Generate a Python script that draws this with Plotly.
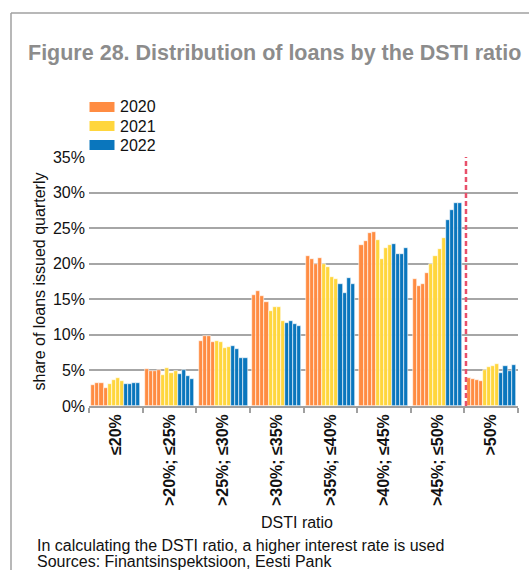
import plotly.graph_objects as go

# ---------------- data ----------------
categories = ["≤20%", ">20%; ≤25%", ">25%; ≤30%", ">30%; ≤35%",
              ">35%; ≤40%", ">40%; ≤45%", ">45%; ≤50%", ">50%"]
years = ["2020", "2021", "2022"]
# quarterly shares (%) per DSTI category, Q1..Q4
v2020 = [[3.0, 3.3, 3.3, 2.6], [5.2, 4.95, 4.95, 5.05], [9.15, 9.8, 9.8, 9.0],
         [15.65, 16.1, 15.5, 14.6], [21.1, 20.7, 19.9, 20.8], [22.6, 23.2, 24.25, 24.4],
         [17.8, 16.8, 17.1, 18.7], [4.0, 3.75, 3.65, 3.5]]
v2021 = [[3.1, 3.7, 4.0, 3.55], [4.35, 5.3, 4.6, 4.9], [9.2, 9.0, 8.1, 8.3],
         [13.3, 13.9, 13.9, 11.9], [20.0, 19.5, 18.1, 17.9], [23.4, 20.7, 22.2, 22.6],
         [20.0, 21.1, 22.0, 23.55], [5.1, 5.5, 5.6, 5.9]]
v2022 = [[3.1, 3.1, 3.3, 3.2], [4.5, 5.0, 4.15, 3.75], [8.4, 7.95, 6.8, 6.7],
         [11.7, 11.9, 11.5, 11.2], [17.2, 15.9, 18.0, 17.1], [22.8, 21.3, 21.4, 22.2],
         [26.1, 27.6, 28.55, 28.55], [4.6, 5.65, 4.9, 5.75]]
colors = ["#ff8c42", "#ffd63d", "#0a76bd"]
yticks = [0, 5, 10, 15, 20, 25, 30, 35]

# ---------------- geometry helpers ----------------
W, H = 529, 570
ML, MR, MT, MB = 89, 11, 157, 164
PW, PH = W - ML - MR, H - MT - MB


def xp(px):
    return (px - ML) / PW


def yp(py):
    return (H - MB - py) / PH


fig = go.Figure()
group_w = 0.914
bw = group_w / 12
for k, (yr, vals, col) in enumerate(zip(years, [v2020, v2021, v2022], colors)):
    xs, ys = [], []
    for i, quarters in enumerate(vals):
        for q, v in enumerate(quarters):
            idx = k * 4 + q
            xs.append(i + (idx - 5.5) * bw)
            ys.append(v)
    fig.add_trace(go.Bar(x=xs, y=ys, width=bw, name=yr, marker_color=col,
                         marker_line_color="white", marker_line_width=0.6,
                         showlegend=False))

fig.update_layout(
    width=W, height=H,
    margin=dict(l=ML, r=MR, t=MT, b=MB, autoexpand=False),
    paper_bgcolor="white", plot_bgcolor="white",
    font=dict(family="Liberation Sans, Arial, sans-serif", size=16, color="#1a1a1a"),
    bargap=0,
)
fig.update_xaxes(
    range=[-0.5, 7.5], tickmode="array", tickvals=list(range(len(categories))),
    ticktext=categories, tickangle=-90, ticks="",
    tickfont=dict(size=16, weight="bold", color="#111"),
    showgrid=False, zeroline=False, showline=True, linecolor="#a0a0a0", linewidth=1.5,
    minor=dict(tick0=0.5, dtick=1, ticks="outside", ticklen=5, tickcolor="#a0a0a0",
               tickwidth=1.5, showgrid=False),
)
fig.update_yaxes(
    range=[0, 35], tickmode="array", tickvals=yticks,
    ticktext=[f"{t}%" for t in yticks], ticks="", ticklabelstandoff=3,
    tickfont=dict(size=16, color="#111"),
    showgrid=True, gridcolor="#a6a6a6", gridwidth=1.5, zeroline=False,
    title=dict(text="share of loans issued quarterly", font=dict(size=16, color="#111"),
               standoff=3),
)

# vertical dashed line separating >50%
fig.add_shape(type="line", xref="x", yref="paper", x0=6.53, x1=6.53, y0=0, y1=1,
              line=dict(color="#e8506a", width=2.5, dash="5px,3px"))

# border box (left + top)
fig.add_shape(type="line", xref="paper", yref="paper", x0=xp(11), x1=xp(11),
              y0=yp(13), y1=yp(H + 5), line=dict(color="#a0a0a0", width=1.5))
fig.add_shape(type="line", xref="paper", yref="paper", x0=xp(11), x1=xp(W + 5),
              y0=yp(13), y1=yp(13), line=dict(color="#a0a0a0", width=1.5))

# manual legend
for k, (yr, col) in enumerate(zip(years, colors)):
    top = 102 + k * 19
    fig.add_shape(type="rect", xref="paper", yref="paper", x0=xp(89.5), x1=xp(114.5),
                  y0=yp(top + 10), y1=yp(top), fillcolor=col, line=dict(width=0))
    fig.add_annotation(xref="paper", yref="paper", x=xp(118), y=yp(top + 5), text=yr,
                       showarrow=False, xanchor="left", yanchor="middle",
                       font=dict(size=16, color="#111"))

# title
fig.add_annotation(xref="paper", yref="paper", x=xp(274), y=yp(53),
                   text="Figure 28. Distribution of loans by the DSTI ratio",
                   showarrow=False, xanchor="center", yanchor="middle",
                   font=dict(size=21.5, weight="bold", color="#8c8c8c"))
# x-axis title
fig.add_annotation(xref="paper", yref="paper", x=xp(297), y=yp(522), text="DSTI ratio",
                   showarrow=False, xanchor="center", yanchor="middle",
                   font=dict(size=16, color="#111"))
# notes
fig.add_annotation(xref="paper", yref="paper", x=xp(35), y=yp(545),
                   text="In calculating the DSTI ratio, a higher interest rate is used",
                   showarrow=False, xanchor="left", yanchor="middle",
                   font=dict(size=16, color="#111"))
fig.add_annotation(xref="paper", yref="paper", x=xp(35), y=yp(561),
                   text="Sources: Finantsinspektsioon, Eesti Pank",
                   showarrow=False, xanchor="left", yanchor="middle",
                   font=dict(size=16, color="#111"))

fig.write_html("out.html")
